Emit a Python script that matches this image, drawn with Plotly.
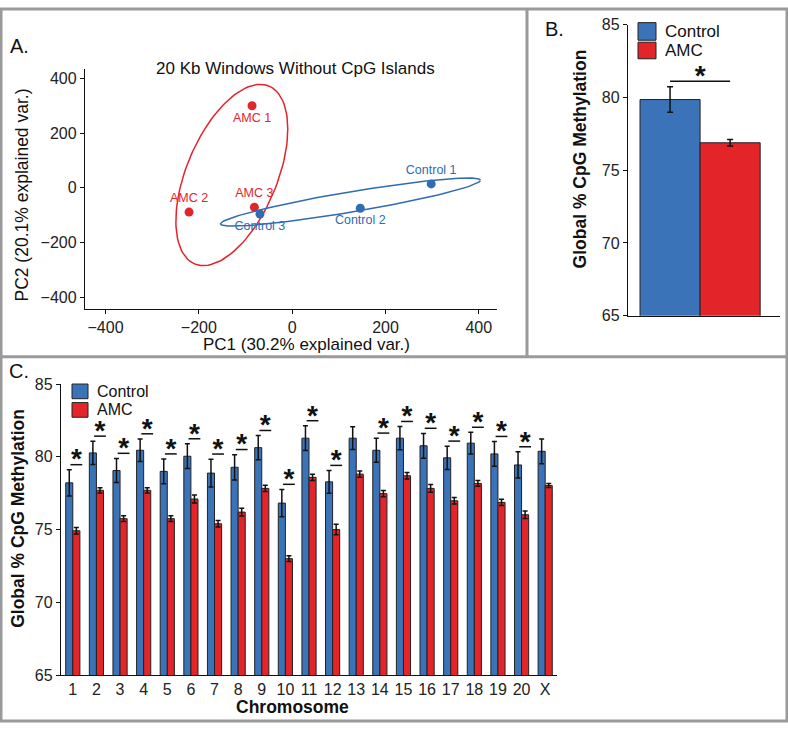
import numpy as np
import plotly.graph_objects as go

W, H = 788, 731

# ---- Panel A: PCA scores ----
samples = ["AMC 1", "AMC 2", "AMC 3", "Control 1", "Control 2", "Control 3"]
groups = ["AMC", "AMC", "AMC", "Control", "Control", "Control"]
pc1 = [-86, -221, -81, 298, 146, -69]
pc2 = [300, -89, -71, 14, -75, -96]
label_pos = ["bottom center", "top center", "top center",
             "top center", "bottom center", "bottom center"]

# ---- Panel B: global methylation ----
b_groups = ["Control", "AMC"]
b_mean = [79.85, 76.88]
b_err = [0.88, 0.22]

# ---- Panel C: per chromosome ----
chrom = [str(i) for i in range(1, 21)] + ["X"]
ctrl = [78.21, 80.27, 79.06, 80.45, 79.0, 80.04, 78.88, 79.28, 80.63, 76.82, 81.28,
        78.28, 81.28, 80.45, 81.28, 80.76, 79.93, 80.94, 80.2, 79.44, 80.38]
ctrl_err = [0.9, 0.8, 0.83, 0.78, 0.85, 0.85, 0.96, 0.87, 0.83, 0.94, 0.85,
            0.78, 0.78, 0.83, 0.8, 0.85, 0.8, 0.74, 0.85, 0.9, 0.85]
amc = [74.92, 77.7, 75.75, 77.7, 75.75, 77.1, 75.4, 76.2, 77.83, 73.0, 78.59,
       75.0, 78.81, 77.47, 78.7, 77.83, 76.98, 78.17, 76.87, 76.02, 78.03]
amc_err = [0.22, 0.18, 0.2, 0.18, 0.2, 0.27, 0.22, 0.27, 0.22, 0.2, 0.22,
           0.36, 0.22, 0.22, 0.22, 0.27, 0.22, 0.2, 0.22, 0.25, 0.13]
sig = [True] * 12 + [False] + [True] * 7 + [False]

RED = "#E3242B"
BLUE = "#2F6CB3"
BAR_BLUE = "#3A73B8"
BAR_RED = "#E32428"
FONT = "Arial, Liberation Sans, sans-serif"


def px(x):
    return x / W


def py(y):
    return 1 - y / H


def ellipse(xs, ys, prob=0.68, n=120):
    pts = np.vstack([xs, ys]).astype(float)
    mu = pts.mean(axis=1, keepdims=True)
    L = np.linalg.cholesky(np.cov(pts))
    r = np.sqrt(-2 * np.log(1 - prob))
    t = np.linspace(0, 2 * np.pi, n)
    e = mu + r * L @ np.vstack([np.cos(t), np.sin(t)])
    return e[0], e[1]


fig = go.Figure()

for g, col in [("AMC", RED), ("Control", BLUE)]:
    idx = [i for i, gg in enumerate(groups) if gg == g]
    ex, ey = ellipse([pc1[i] for i in idx], [pc2[i] for i in idx])
    fig.add_trace(go.Scatter(x=ex, y=ey, mode="lines", line=dict(color=col, width=1.5),
                             xaxis="x", yaxis="y", showlegend=False, hoverinfo="skip"))
    fig.add_trace(go.Scatter(
        x=[pc1[i] for i in idx], y=[pc2[i] for i in idx], mode="markers+text",
        text=[samples[i] for i in idx], textposition=[label_pos[i] for i in idx],
        textfont=dict(color=col, size=12.5, family=FONT),
        marker=dict(color=col, size=9), xaxis="x", yaxis="y", showlegend=False))

# panel B
fig.add_trace(go.Bar(
    x=[0, 1], y=b_mean, width=1, marker=dict(color=[BAR_BLUE, BAR_RED],
                                              line=dict(color="#222", width=1)),
    error_y=dict(type="data", array=b_err, color="#111", thickness=1.5, width=3),
    xaxis="x2", yaxis="y2", showlegend=False))
b_line = max(m + e for m, e in zip(b_mean, b_err)) + 0.37
fig.add_trace(go.Scatter(x=[0, 1], y=[b_line, b_line], mode="lines",
                         line=dict(color="#111", width=1.5), xaxis="x2", yaxis="y2",
                         showlegend=False, hoverinfo="skip"))
fig.add_trace(go.Scatter(x=[0.5], y=[b_line + 0.22], mode="text", text=["*"],
                         textfont=dict(size=28, family=FONT, color="#111", weight="bold"),
                         xaxis="x2", yaxis="y2", showlegend=False))

# panel C
xi = list(range(len(chrom)))
fig.add_trace(go.Bar(
    x=xi, y=ctrl, offset=-0.3, width=0.3,
    marker=dict(color=BAR_BLUE, line=dict(color="#222", width=1)),
    error_y=dict(type="data", array=ctrl_err, color="#111", thickness=1.5, width=2.5),
    xaxis="x3", yaxis="y3", showlegend=False))
fig.add_trace(go.Bar(
    x=xi, y=amc, offset=0, width=0.3,
    marker=dict(color=BAR_RED, line=dict(color="#222", width=1)),
    error_y=dict(type="data", array=amc_err, color="#111", thickness=1.5, width=2.5),
    xaxis="x3", yaxis="y3", showlegend=False))

lx, ly, sx, sy = [], [], [], []
for i, s in enumerate(sig):
    if not s:
        continue
    yl = ctrl[i] + ctrl_err[i] + 0.35
    lx += [i - 0.1, i + 0.4, None]
    ly += [yl, yl, None]
    sx.append(i + 0.15)
    sy.append(yl + 0.22)
fig.add_trace(go.Scatter(x=lx, y=ly, mode="lines", line=dict(color="#111", width=1.5),
                         xaxis="x3", yaxis="y3", showlegend=False, hoverinfo="skip"))
fig.add_trace(go.Scatter(x=sx, y=sy, mode="text", text=["*"] * len(sx),
                         textfont=dict(size=28, family=FONT, color="#111", weight="bold"),
                         xaxis="x3", yaxis="y3", showlegend=False))

axis_common = dict(showgrid=False, zeroline=False, showline=True, linecolor="#111",
                   linewidth=1.3, ticks="outside", ticklen=4, tickcolor="#111",
                   tickfont=dict(size=16, family=FONT, color="#222"))

fig.update_layout(
    width=W, height=H, margin=dict(l=0, r=0, t=0, b=0),
    paper_bgcolor="white", plot_bgcolor="white",
    xaxis=dict(domain=[px(85), px(497)], range=[-444, 439], anchor="y",
               tickvals=[-400, -200, 0, 200, 400], **axis_common),
    yaxis=dict(domain=[py(308), py(62)], range=[-443, 436], anchor="x",
               tickvals=[-400, -200, 0, 200, 400], **axis_common),
    xaxis2=dict(domain=[px(628), px(780)], range=[-0.7, 1.83], anchor="y2",
                showgrid=False, zeroline=False, showline=True, linecolor="#111",
                linewidth=1.3, showticklabels=False, ticks=""),
    yaxis2=dict(domain=[py(315), py(17)], range=[65, 85], anchor="x2",
                tickvals=[65, 70, 75, 80, 85], **axis_common),
    xaxis3=dict(domain=[px(61), px(557)], range=[-0.5, 20.5], anchor="y3",
                tickvals=xi, ticktext=chrom, showgrid=False, zeroline=False,
                showline=True, linecolor="#111", linewidth=1.3, ticks="",
                tickfont=dict(size=16, family=FONT, color="#222")),
    yaxis3=dict(domain=[py(683), py(385)], range=[65, 85], anchor="x3",
                tickvals=[65, 70, 75, 80, 85], **axis_common),
)

ann = []


def text(x, y, s, size, bold=False, angle=0, xanchor="center", color="#111"):
    ann.append(dict(x=px(x), y=py(y), xref="paper", yref="paper", text=s,
                    showarrow=False, textangle=angle, xanchor=xanchor, yanchor="middle",
                    font=dict(size=size, family=FONT, color=color,
                              weight="bold" if bold else "normal")))


text(8, 39, "A.", 20, xanchor="left")
text(543, 21, "B.", 20, xanchor="left")
text(7, 372, "C.", 20, xanchor="left")
text(295, 62, "20 Kb Windows Without CpG Islands", 17)
text(306, 345, "PC1 (30.2% explained var.)", 17)
text(22, 192, "PC2 (20.1% explained var.)", 17.5, angle=-90)
text(580, 155, "Global % CpG Methylation", 17.5, bold=True, angle=-90)
text(18, 523, "Global % CpG Methylation", 17.5, bold=True, angle=-90)
text(292, 716, "Chromosome", 17.5, bold=True)

shapes = []
legend_boxes = [(638, 15, 33, 18, BAR_BLUE, "Control", 17), (638, 35, 52, 18, BAR_RED, "AMC", 17),
                (72, 385, 400, 16, BAR_BLUE, "Control", 16), (72, 404, 419, 16, BAR_RED, "AMC", 16)]
for (x0, y0, y1, w, col, lab, fs) in legend_boxes:
    shapes.append(dict(type="rect", xref="paper", yref="paper", x0=px(x0), x1=px(x0 + w),
                       y0=py(y1), y1=py(y0), fillcolor=col, line=dict(color="#222", width=1)))
    text(x0 + w + 7, (y0 + y1) / 2, lab, fs, xanchor="left")

# panel borders
border = dict(color="#9a9a9a", width=3)
shapes.append(dict(type="rect", xref="paper", yref="paper", x0=px(1), x1=px(787),
                   y0=py(730), y1=py(1), line=border))
shapes.append(dict(type="line", xref="paper", yref="paper", x0=0, x1=1,
                   y0=py(357), y1=py(357), line=border))
shapes.append(dict(type="line", xref="paper", yref="paper", x0=px(527), x1=px(527),
                   y0=py(357), y1=1, line=border))

fig.update_layout(annotations=ann, shapes=shapes)

fig.write_html("out.html", config={"displayModeBar": False},
               post_script="document.body.style.margin='0';")
